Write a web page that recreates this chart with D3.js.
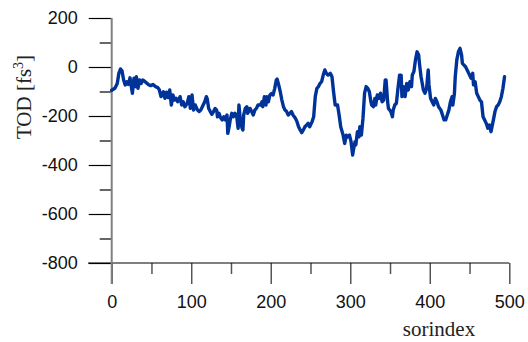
<!DOCTYPE html>
<html>
<head>
<meta charset="utf-8">
<title>TOD vs sorindex</title>
<style>
  body { margin: 0; background: #fff; }
  .tick text { font-family: "Liberation Sans", Arial, sans-serif; font-size: 18px; fill: #111; }
  .title { font-family: "Liberation Serif", "Times New Roman", serif; font-size: 21px; fill: #222; }
</style>
<script src="https://cdn.jsdelivr.net/npm/d3@7"></script>
</head>
<body>
<script>
// values
var sorindex = [0,4,7,9,11,13,15,17,19,21,23,25,26,28,30,31,33,35,37,39,42,46,49,52,55,58,60,62,65,67,69,71,73,75,77,79,81,83,86,88,90,92,95,97,99,101,103,105,108,110,112,115,117,119,
  120,122,124,126,128,130,132,133,135,137,139,141,143,145,146,148,149,151,153,155,157,159,160,162,164,165,166,168,170,171,173,174,176,178,180,182,184,187,189,190,192,194,195,197,199,
  201,203,205,207,208,210,212,214,216,218,220,222,224,226,228,231,233,235,237,239,241,243,245,247,249,252,254,256,258,260,262,264,266,268,270,272,275,277,279,281,284,286,288,291,293,295,297,299,
  301,303,304,306,307,309,311,312,314,316,318,320,322,324,326,327,329,331,332,334,336,338,340,342,344,345,347,348,351,353,354,356,358,360,362,
  364,365,367,369,371,373,375,377,378,380,382,384,386,387,389,392,394,396,398,399,401,403,405,407,409,411,414,416,418,420,422,424,426,428,429,431,432,434,436,438,440,441,443,445,447,449,
  452,454,455,457,459,461,463,465,467,469,471,473,475,477,480,482,484,486,488,490,492,494];
var tod = [-95,-87,-67,-26,-8,-16,-53,-73,-60,-71,-44,-87,-107,-46,-80,-40,-87,-53,-67,-53,-60,-71,-76,-71,-80,-84,-94,-121,-101,-128,-103,-125,-94,-155,-114,-135,-128,-142,-121,-155,-142,-162,-148,-121,-169,-114,-176,-155,-176,-182,-176,-155,-142,-121,
  -128,-169,-182,-193,-182,-169,-176,-203,-189,-207,-216,-203,-216,-196,-271,-237,-216,-189,-203,-189,-196,-250,-155,-223,-250,-257,-196,-169,-162,-189,-176,-169,-182,-196,-176,-169,-155,-155,-142,-162,-121,-155,-121,-142,-114,
  -108,-114,-87,-53,-49,-73,-101,-135,-162,-176,-182,-196,-189,-182,-196,-209,-223,-244,-257,-268,-257,-244,-237,-230,-244,-223,-203,-121,-87,-80,-67,-60,-33,-12,-26,-33,-26,-40,-101,-155,-155,-196,-244,-278,-312,-278,-285,-278,
  -305,-359,-339,-305,-318,-264,-285,-244,-278,-209,-107,-80,-87,-101,-142,-155,-162,-128,-155,-114,-128,-107,-142,-135,-53,-53,-142,-169,-182,-203,-176,-155,-148,-87,-33,
  -33,-121,-80,-121,-67,-94,-60,-80,-33,-19,29,62,49,15,-40,-94,-107,-87,-12,-73,-128,-142,-155,-128,-142,-162,-176,-196,-216,-216,-196,-176,-142,-121,-155,-107,-40,29,62,76,49,15,8,1,-12,-26,
  -46,-26,-73,-60,-107,-121,-135,-142,-203,-216,-230,-250,-237,-264,-216,-182,-162,-155,-142,-121,-87,-40];
var xMajor = [0,100,200,300,400,500];
var xMinor = [50,150,250,350,450];
var yMajor = [200,0,-200,-400,-600,-800];
var yMinor = [100,-100,-300,-500,-700];

var W = 528, H = 342;
var svg = d3.select("body").append("svg").attr("width", W).attr("height", H);

var x = d3.scaleLinear().domain([0, 500]).range([111.7, 509.3]);
var y = d3.scaleLinear().domain([-800, 200]).range([263, 18]);

// y axis: major + minor ticks, black (plain hyphen minus like the original)
var yAx = svg.append("g").attr("transform", "translate(" + x(0) + ",0)")
  .call(d3.axisLeft(y).tickValues(yMajor).tickSize(23).tickPadding(11).tickFormat(function(d) { return String(d); }));
yAx.select(".domain").remove();
yAx.selectAll("line").attr("stroke", "#000").attr("stroke-width", 1.2);
var yMin = svg.append("g").attr("transform", "translate(" + x(0) + ",0)")
  .call(d3.axisLeft(y).tickValues(yMinor).tickSize(12).tickFormat(""));
yMin.select(".domain").remove();
yMin.selectAll("line").attr("stroke", "#000").attr("stroke-width", 1.2);

// x axis: ticks below the -800 line
var xAx = svg.append("g").attr("transform", "translate(0," + y(-800) + ")")
  .call(d3.axisBottom(x).tickValues(xMajor).tickSize(21).tickPadding(11));
xAx.select(".domain").remove();
xAx.selectAll("line").attr("stroke", "#555").attr("stroke-width", 1.5);
var xMin = svg.append("g").attr("transform", "translate(0," + y(-800) + ")")
  .call(d3.axisBottom(x).tickValues(xMinor).tickSize(11).tickFormat(""));
xMin.select(".domain").remove();
xMin.selectAll("line").attr("stroke", "#555").attr("stroke-width", 1.5);

// horizontal base line and vertical gray axis
svg.append("line").attr("x1", 88).attr("x2", x(500)).attr("y1", y(-800)).attr("y2", y(-800))
  .attr("stroke", "#000").attr("stroke-width", 1.2);
svg.append("line").attr("x1", x(0)).attr("x2", x(0)).attr("y1", y(200)).attr("y2", y(-800) + 21)
  .attr("stroke", "#808080").attr("stroke-width", 2);

// the series
var pts = sorindex.map(function(d, i) { return [d, tod[i]]; });
var line = d3.line().x(function(d) { return x(d[0]); }).y(function(d) { return y(d[1]); });
svg.append("path").datum(pts).attr("d", line)
  .attr("fill", "none").attr("stroke", "#003399").attr("stroke-width", 3.4)
  .attr("stroke-linejoin", "round").attr("stroke-linecap", "round");

// titles
svg.append("text").attr("class", "title").attr("x", 439).attr("y", 336)
  .attr("text-anchor", "middle").text("sorindex");
var yt = svg.append("text").attr("class", "title").attr("text-anchor", "middle")
  .attr("transform", "translate(31,97) rotate(-90)");
yt.append("tspan").text("TOD [fs");
yt.append("tspan").attr("dy", -8).attr("font-size", "14px").text("3");
yt.append("tspan").attr("dy", 8).text("]");
</script>
</body>
</html>
